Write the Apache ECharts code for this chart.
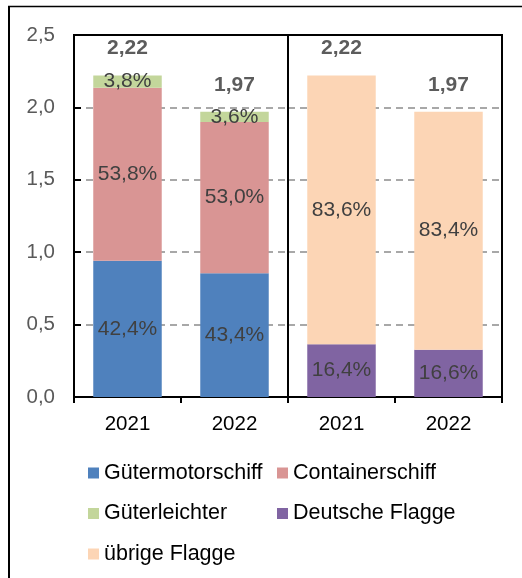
<!DOCTYPE html>
<html>
<head>
<meta charset="utf-8">
<style>
  html, body { margin: 0; padding: 0; background: #fff; }
  #chart { width: 522px; height: 578px; }
</style>
<script src="https://cdn.jsdelivr.net/npm/echarts@6/dist/echarts.min.js"></script>
</head>
<body>
<div id="chart"></div>
<script>
// Fleet capacity (Mio. t) by ship type and by flag, 2021 and 2022
const years = ['2021', '2022'];
const totals = [2.22, 1.97];

// shares in percent of the yearly total
const shareMotor = [42.4, 43.4];      // Gütermotorschiff
const shareContainer = [53.8, 53.0];  // Containerschiff
const shareLighter = [3.8, 3.6];      // Güterleichter
const shareGerman = [16.4, 16.6];     // Deutsche Flagge
const shareOther = [83.6, 83.4];      // übrige Flagge

const yMin = 0, yMax = 2.5, yStep = 0.5;

const FONT = "'Liberation Sans', Arial, sans-serif";
const toAbs = shares => shares.map((s, i) => +(totals[i] * s / 100).toFixed(4));
const pct = shares => p => shares[p.dataIndex].toFixed(1).replace('.', ',') + '%';

const COLORS = {
  motor: '#4F81BD',
  container: '#D99594',
  lighter: '#C3D69B',
  german: '#8064A2',
  other: '#FCD5B5'
};

const barLabel = shares => ({
  show: true,
  position: 'inside',
  color: '#404040',
  fontSize: 21,
  fontFamily: FONT,
  formatter: pct(shares)
});

function stackBar(name, shares, color, axis, stack) {
  return {
    name, type: 'bar', stack,
    xAxisIndex: axis, yAxisIndex: axis,
    barWidth: '64%',
    data: toAbs(shares),
    itemStyle: { color },
    label: barLabel(shares),
    emphasis: { disabled: true }
  };
}

function totalSeries(axis) {
  return {
    type: 'scatter',
    xAxisIndex: axis, yAxisIndex: axis,
    data: totals,
    symbolSize: 0.1,
    itemStyle: { color: 'transparent' },
    silent: true,
    z: 10,
    label: {
      show: true,
      position: 'inside',
      offset: [0, -27],
      color: '#333',
      fontSize: 21,
      fontWeight: 'bold',
      fontFamily: FONT,
      formatter: p => totals[p.dataIndex].toFixed(2).replace('.', ',')
    }
  };
}

function xAxis(gridIndex) {
  return {
    type: 'category',
    gridIndex,
    data: years,
    axisLine: { show: true, lineStyle: { color: '#000', width: 2 } },
    axisTick: { show: true, inside: false, length: 6, lineStyle: { color: '#000', width: 2 } },
    axisLabel: { color: '#000', fontSize: 20.5, fontFamily: FONT, margin: 17 }
  };
}

function yAxis(gridIndex, labels) {
  return {
    type: 'value',
    gridIndex,
    min: yMin, max: yMax, interval: yStep,
    axisLine: { show: true, lineStyle: { color: '#000', width: 2 } },
    axisTick: { show: labels, inside: true, length: 7, lineStyle: { color: '#000', width: 2 } },
    axisLabel: {
      show: labels,
      color: '#595959',
      fontSize: 20.5,
      fontFamily: FONT,
      margin: 19,
      formatter: v => v.toFixed(1).replace('.', ',')
    },
    splitLine: {
      show: true,
      showMinLine: false,
      showMaxLine: false,
      lineStyle: { color: '#8C8C8C', width: 1.5, type: [7, 5] }
    }
  };
}

const legendText = { color: '#000', fontSize: 21.5, fontFamily: FONT };

const option = {
  animation: false,
  backgroundColor: '#fff',
  grid: [
    { left: 74, top: 35, width: 214, height: 362, show: true, borderColor: '#000', borderWidth: 2, backgroundColor: 'transparent' },
    { left: 288, top: 35, width: 214, height: 362, show: true, borderColor: '#000', borderWidth: 2, backgroundColor: 'transparent' }
  ],
  xAxis: [xAxis(0), xAxis(1)],
  yAxis: [yAxis(0, true), yAxis(1, false)],
  legend: [
    {
      orient: 'vertical', left: 88, top: 462, padding: 0,
      itemWidth: 11, itemHeight: 11, itemGap: 18.5, icon: 'rect',
      selectedMode: false,
      textStyle: legendText,
      data: ['Gütermotorschiff', 'Güterleichter', 'übrige Flagge']
    },
    {
      orient: 'vertical', left: 277, top: 462, padding: 0,
      itemWidth: 11, itemHeight: 11, itemGap: 18.5, icon: 'rect',
      selectedMode: false,
      textStyle: legendText,
      data: ['Containerschiff', 'Deutsche Flagge']
    }
  ],
  graphic: [
    { type: 'line', shape: { x1: 9, y1: 6.5, x2: 9, y2: 600 }, style: { stroke: '#000', lineWidth: 2 } },
    { type: 'line', shape: { x1: 8, y1: 6.5, x2: 540, y2: 6.5 }, style: { stroke: '#000', lineWidth: 1.5 } }
  ],
  series: [
    stackBar('Gütermotorschiff', shareMotor, COLORS.motor, 0, 'fleet'),
    stackBar('Containerschiff', shareContainer, COLORS.container, 0, 'fleet'),
    stackBar('Güterleichter', shareLighter, COLORS.lighter, 0, 'fleet'),
    stackBar('Deutsche Flagge', shareGerman, COLORS.german, 1, 'flag'),
    stackBar('übrige Flagge', shareOther, COLORS.other, 1, 'flag'),
    totalSeries(0),
    totalSeries(1)
  ]
};

echarts.init(document.getElementById('chart'), null, { renderer: 'canvas' }).setOption(option);
</script>
</body>
</html>
